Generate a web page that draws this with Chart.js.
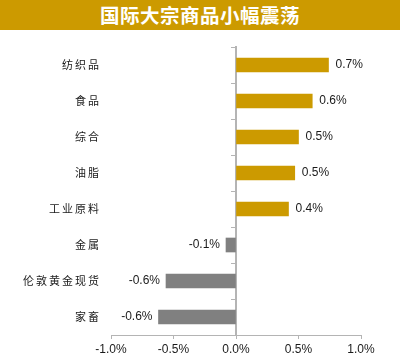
<!DOCTYPE html>
<html><head><meta charset="utf-8">
<script src="https://cdn.jsdelivr.net/npm/chart.js@4/dist/chart.umd.min.js"></script>
<style>
html,body{margin:0;padding:0;background:#fff;}
#wrap{position:relative;width:402px;height:358px;overflow:hidden;}
#title{position:absolute;left:0;top:0;width:400px;height:30px;background:#CC9A00;color:#fff;
font-family:"Noto Sans CJK SC",sans-serif;font-weight:bold;font-size:19.5px;line-height:30px;text-align:center;letter-spacing:0.5px;z-index:2;}
canvas{position:absolute;left:0;top:0;}
</style></head>
<body><div id="wrap"><div id="title">国际大宗商品小幅震荡</div><canvas id="c" width="402" height="358"></canvas></div>
<script>
const categories = ["纺织品","食品","综合","油脂","工业原料","金属","伦敦黄金现货","家畜"];
const changes = [0.74, 0.61, 0.50, 0.47, 0.42, -0.08, -0.56, -0.62];
const xTicks = [-1.0, -0.5, 0.0, 0.5, 1.0];

const GOLD = "#CC9A00", GREY = "#808080", AXIS = "#B4B4B4";

const valueLabels = {
  id: "valueLabels",
  afterDatasetsDraw(chart) {
    const ctx = chart.ctx;
    const meta = chart.getDatasetMeta(0);
    ctx.save();
    ctx.font = "12px 'Liberation Sans', Arial, sans-serif";
    ctx.fillStyle = "#1a1a1a";
    ctx.textBaseline = "middle";
    meta.data.forEach((bar, i) => {
      const v = changes[i];
      const txt = v.toFixed(1) + "%";
      if (v >= 0) { ctx.textAlign = "left"; ctx.fillText(txt, bar.x + 7, bar.y); }
      else { ctx.textAlign = "right"; ctx.fillText(txt, bar.x - 6, bar.y); }
    });
    // category labels with letter spacing
    const ys = chart.scales.y;
    ctx.font = "11px 'Noto Sans CJK SC', sans-serif";
    if ('letterSpacing' in ctx) ctx.letterSpacing = "2px";
    ctx.textAlign = "right";
    categories.forEach((c, i) => {
      ctx.fillText(c, ys.right - 10, ys.getPixelForTick(i));
    });
    ctx.restore();
  }
};

new Chart(document.getElementById("c"), {
  type: "bar",
  data: {
    labels: categories,
    datasets: [{
      data: changes,
      backgroundColor: changes.map(v => v >= 0 ? GOLD : GREY),
      barThickness: 14,
      yAxisID: "y"
    }]
  },
  options: {
    indexAxis: "y",
    responsive: false,
    animation: false,
    events: [],
    layout: { padding: { top: 47, right: 41, bottom: 0, left: 0 } },
    plugins: { legend: { display: false }, tooltip: { enabled: false } },
    scales: {
      x: {
        min: -1, max: 1,
        afterBuildTicks(s) { s.ticks = xTicks.map(v => ({ value: v })); },
        afterFit(s) { s.height = 23; },
        grid: { drawOnChartArea: false, tickLength: 4, color: AXIS },
        border: { color: AXIS, width: 1 },
        ticks: {
          padding: 3,
          color: "#1a1a1a",
          font: { family: "'Liberation Sans', Arial, sans-serif", size: 12 },
          callback: v => Number(v).toFixed(1) + "%"
        }
      },
      y: {
        position: "left",
        afterFit(s) { s.width = 111; },
        grid: { display: false },
        border: { display: false },
        ticks: { display: false }
      },
      y2: {
        type: "category",
        labels: categories,
        position: { x: 0 },
        offset: true,
        afterFit(s) { s.width = 0; },
        grid: { drawOnChartArea: false, offset: true, tickLength: 4, color: AXIS },
        border: { color: AXIS, width: 2 },
        ticks: { display: false }
      }
    }
  },
  plugins: [valueLabels]
});
</script></body></html>
